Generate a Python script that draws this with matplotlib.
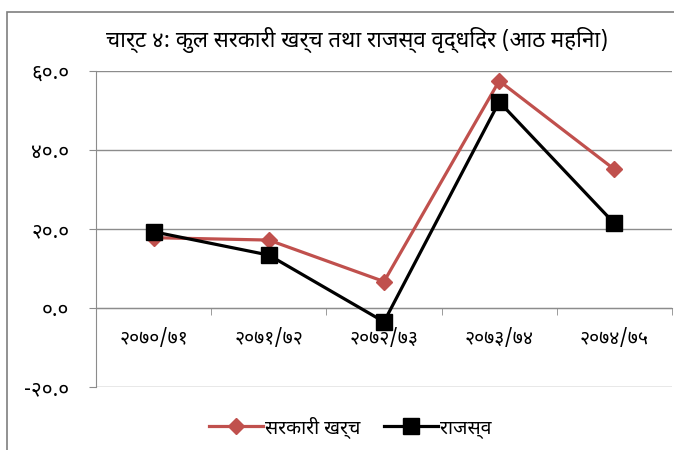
import matplotlib
matplotlib.use("Agg")
import matplotlib.pyplot as plt
from matplotlib.patches import Rectangle
from matplotlib.ticker import FixedLocator

plt.rcParams['font.family'] = ['Noto Sans Devanagari', 'Mukta', 'DejaVu Sans']

years = ['२०७०/७१', '२०७१/७२', '२०७२/७३', '२०७३/७४', '२०७४/७५']
expenditure = [17.8, 17.2, 6.7, 57.5, 35.1]
revenue = [19.3, 13.4, -3.5, 52.2, 21.4]
yticks = [-20, 0, 20, 40, 60]
ytick_labels = ['-२०.०', '०.०', '२०.०', '४०.०', '६०.०']

title = 'चार्ट ४: कुल सरकारी खर्च तथा राजस्व वृद्धिदर (आठ महिना)'
grid_col = '#8c8c8c'

fig = plt.figure(figsize=(6.74, 4.5), dpi=100)
ax = fig.add_axes([96 / 674, 1 - 387 / 450, 576 / 674, 316 / 450])

# outer chart frame (cut off at right and bottom like the source)
fig.patches.append(Rectangle((7 / 674, -0.2), 1.2, 1 - 12 / 450 + 0.2,
                             transform=fig.transFigure, fill=False,
                             edgecolor='#7f7f7f', linewidth=1.2))

# spine position first: it resets the ticks
for s in ['top', 'right']:
    ax.spines[s].set_visible(False)
ax.spines['bottom'].set_position(('data', 0))
ax.spines['bottom'].set_color(grid_col)
ax.spines['left'].set_color(grid_col)

x = list(range(len(years)))
ax.plot(x, expenditure, color='#c0504d', linewidth=2.3, marker='D',
        markersize=8, label='सरकारी खर्च', zorder=3)
ax.plot(x, revenue, color='black', linewidth=2.3, marker='s',
        markersize=11, label='राजस्व', zorder=4)

ax.set_xlim(-0.5, 4.5)
ax.set_ylim(-20, 60)
ax.set_yticks(yticks)
ax.set_yticklabels(ytick_labels)
ax.yaxis.grid(True, color=grid_col, linewidth=1)
ax.set_axisbelow(True)

ax.set_xticks(x)
ax.set_xticklabels(years)
ax.xaxis.set_minor_locator(FixedLocator([0.5, 1.5, 2.5, 3.5, 4.5]))
ax.tick_params(axis='x', which='major', length=0, pad=15, labelsize=14)
ax.tick_params(axis='x', which='minor', length=5, color=grid_col, direction='out')
ax.tick_params(axis='y', length=5, color=grid_col, pad=14, labelsize=15)

fig.text(357 / 674, 1 - 40 / 450, title, ha='center', va='center', fontsize=16)
fig.legend(loc='center', bbox_to_anchor=(350 / 674, 1 - 427 / 450), ncol=2,
           frameon=False, fontsize=14, handlelength=2.8, handletextpad=0.1,
           columnspacing=1.2)

fig.savefig('out.png', dpi=100)
